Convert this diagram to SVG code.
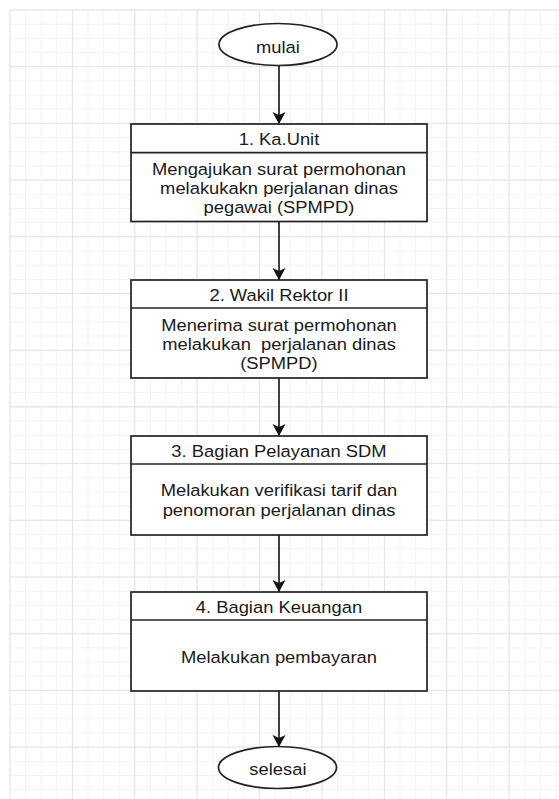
<svg xmlns="http://www.w3.org/2000/svg" width="559" height="799" viewBox="0 0 559 799">
<style>
.bg{fill:#ffffff}
.minor{stroke:#f3f3f3;stroke-width:1;fill:none}
.major{stroke:#e4e4e4;stroke-width:1;fill:none}
.shape{fill:#ffffff;stroke:#222222;stroke-width:1.7}
.div{stroke:#222222;stroke-width:1.7}
.edge{stroke:#111111;stroke-width:1.6;fill:none}
.t{font-family:"Liberation Sans",Arial,Helvetica,sans-serif;font-size:17px;fill:#1a1a1a;text-anchor:middle}
</style>
<defs>
<marker id="arrow" markerUnits="userSpaceOnUse" viewBox="-13 -7 13 14" refX="0" refY="0" markerWidth="13" markerHeight="14" orient="auto">
<path d="M0,0 L-12,-6.5 L-9,0 L-12,6.5 Z" fill="#111111"/>
</marker>
</defs>
<rect class="bg" x="0" y="0" width="559" height="799"/>
<g id="grid">
<path class="minor" d="M10,10V799M25.6,10V799M41.2,10V799M56.8,10V799M72.4,10V799M88,10V799M103.6,10V799M119.2,10V799M134.8,10V799M150.4,10V799M166,10V799M181.6,10V799M197.2,10V799M212.8,10V799M228.4,10V799M244,10V799M259.6,10V799M275.2,10V799M290.8,10V799M306.4,10V799M322,10V799M337.6,10V799M353.2,10V799M368.8,10V799M384.4,10V799M400,10V799M415.6,10V799M431.2,10V799M446.8,10V799M462.4,10V799M478,10V799M493.6,10V799M509.2,10V799M524.8,10V799M540.4,10V799M556,10V799"/>
<path class="minor" d="M10,10H559M10,24.2H559M10,38.4H559M10,52.5H559M10,66.7H559M10,80.9H559M10,95.1H559M10,109.2H559M10,123.4H559M10,137.6H559M10,151.8H559M10,165.9H559M10,180.1H559M10,194.3H559M10,208.5H559M10,222.6H559M10,236.8H559M10,251H559M10,265.2H559M10,279.3H559M10,293.5H559M10,307.7H559M10,321.9H559M10,336H559M10,350.2H559M10,364.4H559M10,378.6H559M10,392.7H559M10,406.9H559M10,421.1H559M10,435.3H559M10,449.4H559M10,463.6H559M10,477.8H559M10,492H559M10,506.1H559M10,520.3H559M10,534.5H559M10,548.7H559M10,562.8H559M10,577H559M10,591.2H559M10,605.4H559M10,619.5H559M10,633.7H559M10,647.9H559M10,662.1H559M10,676.2H559M10,690.4H559M10,704.6H559M10,718.8H559M10,732.9H559M10,747.1H559M10,761.3H559M10,775.5H559M10,789.6H559"/>
<path class="major" d="M10,10V799M72.4,10V799M134.8,10V799M197.2,10V799M259.6,10V799M322,10V799M384.4,10V799M446.8,10V799M509.2,10V799"/>
<path class="major" d="M10,10H559M10,66.7H559M10,123.4H559M10,180.1H559M10,236.8H559M10,293.5H559M10,350.2H559M10,406.9H559M10,463.6H559M10,520.3H559M10,577H559M10,633.7H559M10,690.4H559M10,747.1H559"/>
</g>
<g id="edges">
<line class="edge" x1="279" y1="65.5" x2="279" y2="124" marker-end="url(#arrow)"/>
<line class="edge" x1="279" y1="221.5" x2="279" y2="280" marker-end="url(#arrow)"/>
<line class="edge" x1="279" y1="378" x2="279" y2="436" marker-end="url(#arrow)"/>
<line class="edge" x1="279" y1="535" x2="279" y2="592" marker-end="url(#arrow)"/>
<line class="edge" x1="279" y1="691" x2="279" y2="747" marker-end="url(#arrow)"/>
</g>
<g id="start">
<ellipse class="shape" cx="278" cy="44.5" rx="59" ry="21"/>
<g transform="matrix(1.08 0 0 1 -22.32 0)"><text class="t" x="278" y="53">mulai</text></g>
</g>
<g id="step1">
<rect class="shape" x="131" y="124" width="296" height="97.5"/>
<line class="div" x1="131" y1="152.7" x2="427" y2="152.7"/>
<g transform="matrix(1.08 0 0 1 -22.32 0)">
<text class="t" x="279" y="145.5">1. Ka.Unit</text>
<text class="t" x="279" y="175">Mengajukan surat permohonan</text>
<text class="t" x="279" y="194">melakukakn perjalanan dinas</text>
<text class="t" x="279" y="213">pegawai (SPMPD)</text>
</g>
</g>
<g id="step2">
<rect class="shape" x="131" y="280" width="296" height="98"/>
<line class="div" x1="131" y1="308" x2="427" y2="308"/>
<g transform="matrix(1.08 0 0 1 -22.32 0)">
<text class="t" x="279" y="301.5">2. Wakil Rektor II</text>
<text class="t" x="279" y="331">Menerima surat permohonan</text>
<text class="t" x="279" y="350" xml:space="preserve">melakukan  perjalanan dinas</text>
<text class="t" x="279" y="369">(SPMPD)</text>
</g>
</g>
<g id="step3">
<rect class="shape" x="131" y="436" width="296" height="99"/>
<line class="div" x1="131" y1="464" x2="427" y2="464"/>
<g transform="matrix(1.08 0 0 1 -22.32 0)">
<text class="t" x="279" y="457.5">3. Bagian Pelayanan SDM</text>
<text class="t" x="279" y="496">Melakukan verifikasi tarif dan</text>
<text class="t" x="279" y="516">penomoran perjalanan dinas</text>
</g>
</g>
<g id="step4">
<rect class="shape" x="131" y="592" width="296" height="99"/>
<line class="div" x1="131" y1="620" x2="427" y2="620"/>
<g transform="matrix(1.08 0 0 1 -22.32 0)">
<text class="t" x="279" y="613.5">4. Bagian Keuangan</text>
<text class="t" x="279" y="663">Melakukan pembayaran</text>
</g>
</g>
<g id="end">
<ellipse class="shape" cx="277.5" cy="767.5" rx="59" ry="21"/>
<g transform="matrix(1.08 0 0 1 -22.32 0)"><text class="t" x="278" y="775.5">selesai</text></g>
</g>
</svg>
